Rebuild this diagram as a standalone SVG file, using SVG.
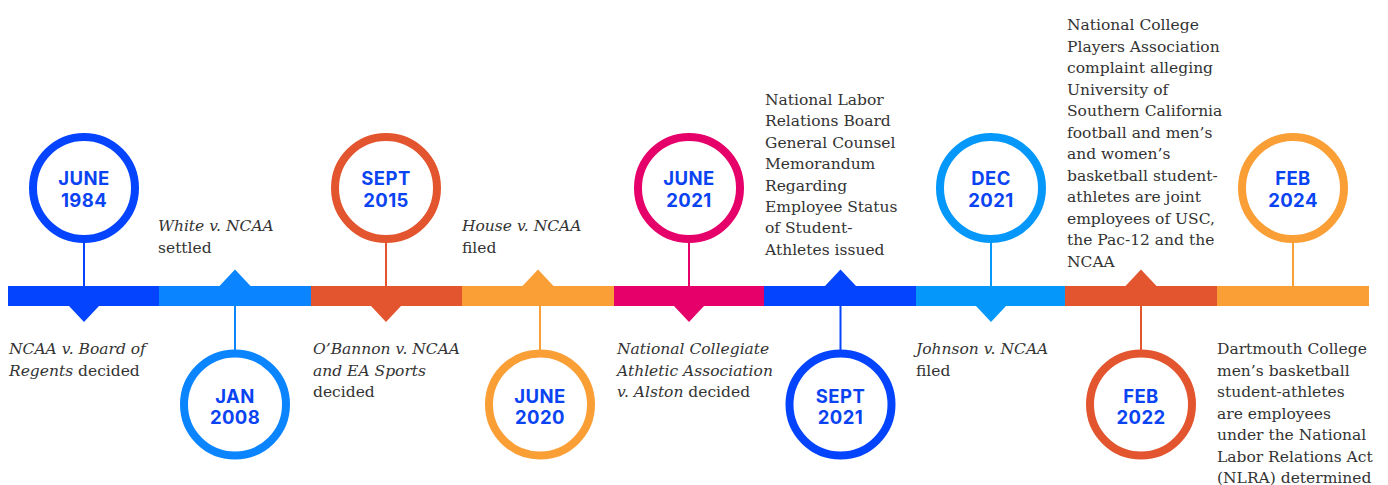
<svg xmlns="http://www.w3.org/2000/svg" width="1388" height="485" viewBox="0 0 1388 485">
  <style>
    .date { font-family: Inter, "Open Sans", "DejaVu Sans", sans-serif; font-weight: 700; font-size: 18.5px; fill: #0A44F2; text-anchor: middle; letter-spacing: 0.4px; }
    .note { font-family: "DejaVu Serif", "Liberation Serif", serif; font-size: 15.5px; fill: #333333; }
    .note .i { font-style: italic; }
    .ring { fill: #ffffff; stroke-width: 8; }
    .stem { stroke-width: 2; }
    .c-blue { stroke: #0444FF; fill: #0444FF; }
    .c-sky { stroke: #0A84FF; fill: #0A84FF; }
    .c-cyan { stroke: #0598FA; fill: #0598FA; }
    .c-red { stroke: #E2552F; fill: #E2552F; }
    .c-orange { stroke: #FA9E36; fill: #FA9E36; }
    .c-pink { stroke: #E5006A; fill: #E5006A; }
    .ring.c-blue, .ring.c-sky, .ring.c-cyan, .ring.c-red, .ring.c-orange, .ring.c-pink { fill: #ffffff; }
  </style>

  <!-- timeline bar: nine coloured segments with pointers -->
  <g id="timeline">
    <rect x="8" y="286" width="151.5" height="20" fill="#0444FF"/>
    <rect x="159" y="286" width="152.5" height="20" fill="#0A84FF"/>
    <rect x="311" y="286" width="151.5" height="20" fill="#E2552F"/>
    <rect x="462" y="286" width="152.5" height="20" fill="#FA9E36"/>
    <rect x="614" y="286" width="150.5" height="20" fill="#E5006A"/>
    <rect x="764" y="286" width="152.5" height="20" fill="#0444FF"/>
    <rect x="916" y="286" width="149.5" height="20" fill="#0598FA"/>
    <rect x="1065" y="286" width="152.5" height="20" fill="#E2552F"/>
    <rect x="1217" y="286" width="152" height="20" fill="#FA9E36"/>
    <!-- pointers below the bar -->
    <polygon points="68.5,305.5 99.5,305.5 84,322" fill="#0444FF"/>
    <polygon points="370.5,305.5 401.5,305.5 386,322" fill="#E2552F"/>
    <polygon points="673.5,305.5 704.5,305.5 689,322" fill="#E5006A"/>
    <polygon points="975.5,305.5 1006.5,305.5 991,322" fill="#0598FA"/>
    <!-- pointers above the bar -->
    <polygon points="219,286.5 251,286.5 235,269.5" fill="#0A84FF"/>
    <polygon points="522,286.5 554,286.5 538,269.5" fill="#FA9E36"/>
    <polygon points="824.5,286.5 856.5,286.5 840.5,269.5" fill="#0444FF"/>
    <polygon points="1125,286.5 1157,286.5 1141,269.5" fill="#E2552F"/>
  </g>

  <!-- stems joining each date ring to the bar -->
  <g id="connectors">
    <line class="stem c-blue" x1="84" y1="242" x2="84" y2="287"/>
    <line class="stem c-sky" x1="235" y1="305" x2="235" y2="350"/>
    <line class="stem c-red" x1="386" y1="242" x2="386" y2="287"/>
    <line class="stem c-orange" x1="540" y1="305" x2="540" y2="350"/>
    <line class="stem c-pink" x1="689" y1="242" x2="689" y2="287"/>
    <line class="stem c-blue" x1="840.5" y1="305" x2="840.5" y2="350"/>
    <line class="stem c-cyan" x1="991" y1="242" x2="991" y2="287"/>
    <line class="stem c-red" x1="1141" y1="305" x2="1141" y2="350"/>
    <line class="stem c-orange" x1="1293" y1="242" x2="1293" y2="287"/>
  </g>

  <g id="event-1984">
    <circle class="ring c-blue" cx="84" cy="188" r="51"/>
    <text class="date" x="84" y="185">JUNE</text>
    <text class="date" x="84" y="207">1984</text>
    <text class="note" x="9" y="354"><tspan class="i">NCAA v. Board of</tspan><tspan x="9" y="375.5"><tspan class="i">Regents</tspan> decided</tspan></text>
  </g>

  <g id="event-2008">
    <circle class="ring c-sky" cx="235" cy="404.5" r="51"/>
    <text class="date" x="235" y="403">JAN</text>
    <text class="date" x="235" y="423.5">2008</text>
    <text class="note" x="158" y="231"><tspan class="i">White v. NCAA</tspan><tspan x="158" y="252.5">settled</tspan></text>
  </g>

  <g id="event-2015">
    <circle class="ring c-red" cx="386" cy="188" r="51"/>
    <text class="date" x="386" y="185">SEPT</text>
    <text class="date" x="386" y="207">2015</text>
    <text class="note" x="313" y="354"><tspan class="i">O’Bannon v. NCAA</tspan><tspan class="i" x="313" y="375.5">and EA Sports</tspan><tspan x="313" y="397">decided</tspan></text>
  </g>

  <g id="event-2020">
    <circle class="ring c-orange" cx="540" cy="404.5" r="51"/>
    <text class="date" x="540" y="403">JUNE</text>
    <text class="date" x="540" y="423.5">2020</text>
    <text class="note" x="462" y="231"><tspan class="i">House v. NCAA</tspan><tspan x="462" y="252.5">filed</tspan></text>
  </g>

  <g id="event-2021-june">
    <circle class="ring c-pink" cx="689" cy="188" r="51"/>
    <text class="date" x="689" y="185">JUNE</text>
    <text class="date" x="689" y="207">2021</text>
    <text class="note" x="617" y="354"><tspan class="i">National Collegiate</tspan><tspan class="i" x="617" y="375.5">Athletic Association</tspan><tspan x="617" y="397"><tspan class="i">v. Alston</tspan> decided</tspan></text>
  </g>

  <g id="event-2021-sept">
    <circle class="ring c-blue" cx="840.5" cy="404.5" r="51"/>
    <text class="date" x="840.5" y="403">SEPT</text>
    <text class="date" x="840.5" y="423.5">2021</text>
    <text class="note" x="765" y="105">
      <tspan x="765" y="105">National Labor</tspan>
      <tspan x="765" y="126.4">Relations Board</tspan>
      <tspan x="765" y="147.8">General Counsel</tspan>
      <tspan x="765" y="169.2">Memorandum</tspan>
      <tspan x="765" y="190.6">Regarding</tspan>
      <tspan x="765" y="212">Employee Status</tspan>
      <tspan x="765" y="233.4">of Student-</tspan>
      <tspan x="765" y="254.8">Athletes issued</tspan>
    </text>
  </g>

  <g id="event-2021-dec">
    <circle class="ring c-cyan" cx="991" cy="188" r="51"/>
    <text class="date" x="991" y="185">DEC</text>
    <text class="date" x="991" y="207">2021</text>
    <text class="note" x="916" y="354"><tspan class="i">Johnson v. NCAA</tspan><tspan x="916" y="375.5">filed</tspan></text>
  </g>

  <g id="event-2022">
    <circle class="ring c-red" cx="1141" cy="404.5" r="51"/>
    <text class="date" x="1141" y="403">FEB</text>
    <text class="date" x="1141" y="423.5">2022</text>
    <text class="note" x="1067">
      <tspan x="1067" y="30">National College</tspan>
      <tspan x="1067" y="51.5">Players Association</tspan>
      <tspan x="1067" y="73">complaint alleging</tspan>
      <tspan x="1067" y="94.5">University of</tspan>
      <tspan x="1067" y="116">Southern California</tspan>
      <tspan x="1067" y="137.5">football and men’s</tspan>
      <tspan x="1067" y="159">and women’s</tspan>
      <tspan x="1067" y="180.5">basketball student-</tspan>
      <tspan x="1067" y="202">athletes are joint</tspan>
      <tspan x="1067" y="223.5">employees of USC,</tspan>
      <tspan x="1067" y="245">the Pac-12 and the</tspan>
      <tspan x="1067" y="266.5">NCAA</tspan>
    </text>
  </g>

  <g id="event-2024">
    <circle class="ring c-orange" cx="1293" cy="188" r="51"/>
    <text class="date" x="1293" y="185">FEB</text>
    <text class="date" x="1293" y="207">2024</text>
    <text class="note" x="1217">
      <tspan x="1217" y="354">Dartmouth College</tspan>
      <tspan x="1217" y="375.5">men’s basketball</tspan>
      <tspan x="1217" y="397">student-athletes</tspan>
      <tspan x="1217" y="418.5">are employees</tspan>
      <tspan x="1217" y="440">under the National</tspan>
      <tspan x="1217" y="461.5">Labor Relations Act</tspan>
      <tspan x="1217" y="483">(NLRA) determined</tspan>
    </text>
  </g>
</svg>
